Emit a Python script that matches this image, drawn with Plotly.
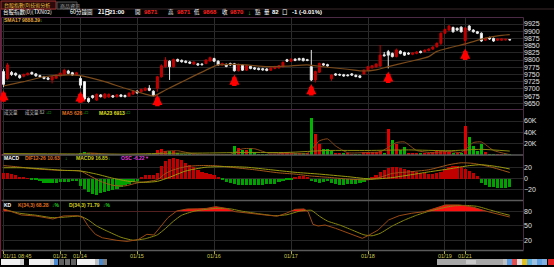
import numpy as np
import plotly.graph_objects as go

W, H = 554, 267

# ---------------- data ----------------
date_ticks = [0, 14, 19, 33, 52, 71, 90, 109, 114]
date_labels = ["01/11 08:45", "01/12", "01/14", "01/15", "01/16", "01/17", "01/18", "01/19", "01/21"]

opens = [9760, 9736, 9757, 9754, 9746, 9744, 9749, 9757, 9752, 9746, 9742, 9738, 9731, 9737, 9745, 9750, 9762, 9756, 9748,
         9736, 9725, 9667, 9676, 9661, 9679, 9669, 9672, 9676, 9673, 9679, 9677, 9675, 9682,
         9692, 9690, 9695, 9702, 9692, 9702, 9742, 9777, 9796, 9777, 9802, 9799, 9796, 9793, 9786, 9787, 9786, 9788, 9797,
         9805, 9796, 9783, 9785, 9788, 9787, 9763, 9783, 9765, 9778, 9773, 9771, 9770, 9769, 9765, 9771, 9773, 9777, 9801,
         9796, 9803, 9805, 9805, 9801, 9777, 9731, 9758, 9787, 9784, 9735, 9752, 9750, 9749, 9748, 9752, 9747, 9745, 9752,
         9765, 9773, 9776, 9779, 9818, 9829, 9823, 9812, 9831, 9826, 9824, 9820, 9823, 9830, 9829, 9833, 9838, 9846, 9858,
         9893, 9904, 9913, 9910, 9914,
         9868, 9918, 9904, 9898, 9893, 9869, 9878, 9875, 9869, 9869, 9870, 9871]
highs = [9768, 9790, 9762, 9757, 9750, 9753, 9757, 9760, 9755, 9749, 9745, 9741, 9745, 9751, 9757, 9770, 9766, 9759, 9759,
         9748, 9727, 9670, 9679, 9684, 9682, 9685, 9684, 9679, 9682, 9682, 9680, 9688, 9695,
         9695, 9701, 9705, 9713, 9695, 9745, 9785, 9810, 9799, 9805, 9805, 9802, 9799, 9796, 9796, 9790, 9789, 9803, 9812,
         9808, 9799, 9791, 9788, 9791, 9790, 9788, 9786, 9783, 9781, 9776, 9774, 9773, 9772, 9775, 9780, 9783, 9795, 9804,
         9806, 9806, 9808, 9808, 9804, 9835, 9763, 9791, 9790, 9787, 9751, 9755, 9753, 9752, 9751, 9755, 9750, 9748, 9768,
         9780, 9783, 9789, 9852, 9828, 9835, 9826, 9840, 9834, 9829, 9827, 9827, 9831, 9833, 9837, 9841, 9848, 9861, 9896,
         9909, 9921, 9916, 9913, 9917,
         9914, 9921, 9907, 9901, 9896, 9878, 9881, 9878, 9876, 9876, 9874, 9871]
lows = [9706, 9730, 9745, 9744, 9735, 9740, 9746, 9749, 9742, 9739, 9733, 9730, 9719, 9734, 9742, 9747, 9751, 9745, 9745,
        9702, 9660, 9652, 9666, 9658, 9670, 9666, 9669, 9669, 9670, 9671, 9670, 9672, 9679,
        9683, 9687, 9692, 9692, 9674, 9690, 9739, 9774, 9731, 9774, 9793, 9791, 9789, 9786, 9783, 9780, 9781, 9785, 9794,
        9793, 9780, 9780, 9775, 9780, 9760, 9760, 9762, 9762, 9768, 9766, 9764, 9763, 9761, 9762, 9768, 9770, 9774, 9793,
        9793, 9796, 9798, 9795, 9796, 9727, 9722, 9755, 9780, 9777, 9728, 9745, 9745, 9742, 9743, 9745, 9740, 9737, 9749,
        9762, 9770, 9773, 9776, 9812, 9771, 9809, 9809, 9820, 9814, 9818, 9817, 9820, 9823, 9826, 9830, 9835, 9843, 9852,
        9890, 9901, 9895, 9901, 9895,
        9850, 9901, 9895, 9890, 9863, 9866, 9870, 9863, 9866, 9866, 9867, 9868]
closes = [9716, 9783, 9750, 9748, 9739, 9750, 9754, 9752, 9745, 9742, 9736, 9733, 9742, 9748, 9754, 9765, 9754, 9748, 9756,
          9713, 9665, 9656, 9670, 9681, 9673, 9682, 9681, 9672, 9679, 9674, 9673, 9685, 9692,
          9686, 9698, 9702, 9695, 9677, 9742, 9780, 9800, 9777, 9802, 9796, 9794, 9792, 9789, 9793, 9783, 9784, 9800, 9808,
          9796, 9783, 9788, 9778, 9783, 9763, 9785, 9765, 9780, 9771, 9769, 9767, 9766, 9764, 9772, 9777, 9780, 9792, 9796,
          9803, 9799, 9801, 9798, 9799, 9731, 9760, 9788, 9783, 9780, 9748, 9748, 9748, 9745, 9746, 9748, 9743, 9740, 9765,
          9777, 9780, 9786, 9817, 9815, 9817, 9812, 9835, 9823, 9817, 9821, 9824, 9828, 9826, 9834, 9838, 9845, 9858, 9893,
          9906, 9918, 9898, 9904, 9898,
          9911, 9904, 9898, 9893, 9866, 9875, 9873, 9866, 9873, 9873, 9872, 9870]

sma_x = [0, 5, 10, 15, 19, 25, 30, 35, 37, 40, 45, 50, 53, 57, 60, 65, 70, 75, 80, 85, 89, 92, 95, 100, 105, 107, 110, 114, 119, 122, 125]
sma_y = [9710, 9725, 9742, 9748, 9746, 9725, 9702, 9682, 9675, 9696, 9731, 9765, 9783, 9785, 9783, 9777, 9779, 9783, 9775, 9768,
         9762, 9766, 9777, 9794, 9812, 9830, 9842, 9856, 9876, 9884, 9888]

arrow_bars = [0, 19, 38, 57, 76, 95, 114]

volume = [1200, 1500, 900, 700, 800, 300, 250, 200, 250, 300, 200, 250, 300, 350, 300, 350, 300, 250, 200,
          4000, 4500, 3500, 2500, 2000, 400, 500, 350, 300, 400, 450, 300, 350, 500,
          400, 500, 450, 600, 500, 9400, 10000, 7000, 6500, 6500, 3500, 1200, 900, 1000, 1300, 800, 900, 1500, 1200,
          1000, 900, 1100, 800, 900, 16000, 13000, 9400, 9400, 13000, 4700, 1500, 1200, 900, 1000, 1400, 1200, 5000, 4500,
          4000, 2500, 2000, 1800, 2200, 66000, 36500, 20000, 10600, 10600, 7000, 3000, 2500, 2000, 1800, 1500, 1300, 1500, 5000,
          6000, 5500, 4500, 6500, 4000, 46500, 26000, 20000, 8000, 14000, 3000, 2500, 2000, 2500, 3000, 2500, 6000, 7000, 6500,
          7000, 5500, 3000, 2500, 2000,
          50600, 31800, 15300, 7000, 18800, 5000, 1500, 900, 700, 800, 650, 82]

vma5_x = [0, 18, 21, 26, 37, 40, 43, 47, 56, 59, 62, 66, 70, 75, 78, 80, 82, 85, 90, 93, 97, 99, 102, 106, 110, 113, 116, 118, 121, 125]
vma5_y = [1500, 600, 3500, 1500, 500, 6500, 7500, 2000, 1000, 11000, 11000, 2000, 3500, 3000, 25000, 28500, 16000, 4000, 4500, 5500,
          22000, 23000, 8000, 4000, 6500, 4500, 22000, 23000, 8000, 626]
vma23_x = [0, 20, 30, 40, 50, 60, 70, 80, 90, 100, 110, 118, 125]
vma23_y = [2500, 1800, 1500, 3000, 3500, 4500, 4500, 8000, 8000, 9000, 7500, 10000, 6913]

osc = [10, 10, 8, 6, 3.3, 1.7, 0.5, -1, -1.5, -5, -7.8, -8, -8.5, -8, -7, -6, -6, -5, -5,
       -13, -19, -24, -27, -29, -26, -23, -21.7, -20, -19, -14.4, -12, -9, -6.7,
       -5, 3.3, 6, 7, 6, 10, 22.8, 31, 34, 35.5, 35, 32, 28, 24.4, 20, 15.5, 11.7, 9, 7.8,
       6, 3.3, -3.3, -5.5, -7.8, -10.5, -11, -12, -12, -12, -12, -11.7, -11, -10.5, -10, -9, -6.7, -5, -3.3,
       -1, 3.3, 4.4, 4.4, 3.3, -5, -6.7, -7.8, -5.5, -5, -7.8, -10.5, -11, -11, -10.5, -10, -9.4, -7.8, -5.5,
       -3.3, 3.3, 6, 11.7, 15.5, 19, 20, 20, 19, 17, 14.4, 12.8, 11, 10, 9, 7.8, 7.8, 9, 11.7,
       17, 21, 22.8, 22, 20,
       17, 13.3, 9, 4.4, -7.8, -12, -14.4, -15.5, -16.7, -16.7, -16, -14.4]
dif_x = [0, 3, 8, 14, 19, 21, 24, 27, 30, 33, 36, 38, 40, 42, 45, 48, 52, 56, 62, 68, 72, 76, 80, 85, 90, 93, 96, 100, 105, 110, 113, 116, 120, 125]
dif_y = [22.8, 21, 17, 14.4, 13.3, 6, -5, -12, -13, -7.8, -5, -2, 9, 15.5, 21, 22.8, 22.8, 20, 15.5, 10, 7.8, 4.4, 2.2, -1, -2.2,
         2.2, 9, 11.7, 15.5, 24.4, 27.8, 26.7, 21, 10.63]
dea_x = [0, 5, 10, 15, 19, 23, 27, 31, 35, 38, 41, 45, 50, 55, 60, 66, 72, 78, 85, 91, 96, 100, 105, 110, 115, 118, 122, 125]
dea_y = [19, 19, 17, 14.4, 13.3, 7.8, 0.5, -5, -6.7, -5, 2.2, 13.3, 20, 21, 20, 15.5, 11, 7.8, 3.3, -1, 1.7, 6, 11.7, 17, 22.8,
         24.4, 21, 16.85]

k_x = [0, 4.4, 7.9, 12.2, 14.8, 18.3, 19.6, 21, 22.7, 24.4, 28, 30.5, 33.2, 35.4, 37.1, 38.8, 40.6, 42.8, 45.4, 48, 50.2, 52.4,
       55, 57.2, 60.2, 64.6, 67.6, 69.8, 72, 74.2, 75.2, 76.4, 77.7, 79.4, 82, 85.1, 87.3, 88.6, 90.3, 92.5, 95.1, 97.7,
       100.8, 103.9, 106.5, 109.1, 112.6, 116.1, 119.6, 122.2, 125]
k_y = [84.8, 72.5, 70.5, 64.3, 70.5, 71, 67, 48.6, 33, 26, 20.7, 18.6, 22, 33, 31.6, 48.6, 67, 80.7, 84.8, 84.8, 86, 89.5,
       86, 79.3, 76, 72.5, 70, 76, 84, 84.8, 79.3, 53.4, 50, 52, 45.2, 35, 28.2, 24.8, 31.6, 41.8, 62.3, 71,
       76, 79.3, 86, 93, 93, 88, 79.3, 74, 68.28]
d_x = [0, 4, 8, 12, 15, 19, 21, 23, 26, 29, 32, 35, 38, 40, 42, 44, 47, 50, 53, 56, 59, 63, 67, 70, 73, 76, 78, 80, 83, 86, 89,
       91, 93, 96, 99, 102, 105, 108, 111, 114, 117, 120, 123, 125]
d_y = [84, 76, 72, 67, 68, 70, 62, 50, 38, 27, 21, 24, 32, 45, 60, 72, 80, 84, 86, 85, 80, 75, 71, 73, 80, 82, 70, 60, 52, 42, 32,
       30, 35, 50, 62, 72, 80, 86, 91, 92, 90, 83, 76, 71.79]

price_ticks = [9925, 9900, 9875, 9850, 9825, 9800, 9775, 9750, 9725, 9700, 9675, 9650]
vol_ticks = [60000, 40000, 20000]
vol_ticktext = ["60K", "40K", "20K"]
macd_ticks = [20, 0, -20]
kd_ticks = [80, 50, 20]

# ---------------- helpers ----------------
def px(x):
    return x / W

def py(y):
    return 1 - y / H

n = len(closes)
idx = list(range(n))
BG = "#000000"
GRID = "#262626"
FONT = "Liberation Sans, Noto Sans CJK TC, sans-serif"
CJK = "Noto Sans CJK TC, sans-serif"

fig = go.Figure()

# price
fig.add_trace(go.Candlestick(
    x=idx, open=opens, high=highs, low=lows, close=closes, yaxis="y",
    increasing=dict(line=dict(color="#c00000", width=1), fillcolor="#c00000"),
    decreasing=dict(line=dict(color="#e8e8e8", width=1), fillcolor="#ffffff"),
    whiskerwidth=0, hoverinfo="skip", showlegend=False))
fig.add_trace(go.Scatter(x=sma_x, y=sma_y, mode="lines", yaxis="y",
                         line=dict(color="#7a4a1a", width=1.2, shape="spline", smoothing=0.6),
                         hoverinfo="skip", showlegend=False))

# volume
vcol = ["#e00000"] + ["#e00000" if closes[i] >= closes[i - 1] else "#00b400" for i in range(1, n)]
fig.add_trace(go.Bar(x=idx, y=volume, yaxis="y2", marker=dict(color=vcol, line=dict(width=0)),
                     width=0.75, hoverinfo="skip", showlegend=False))
fig.add_trace(go.Scatter(x=vma5_x, y=vma5_y, mode="lines", yaxis="y2",
                         line=dict(color="#8a4a1a", width=1, shape="spline", smoothing=0.5),
                         hoverinfo="skip", showlegend=False))
fig.add_trace(go.Scatter(x=vma23_x, y=vma23_y, mode="lines", yaxis="y2",
                         line=dict(color="#8a8a10", width=1, shape="spline", smoothing=0.5),
                         hoverinfo="skip", showlegend=False))

# macd
ocol = ["#c00000" if v >= 0 else "#00a000" for v in osc]
fig.add_trace(go.Bar(x=idx, y=osc, yaxis="y3", marker=dict(color=ocol, line=dict(width=0)),
                     width=0.8, hoverinfo="skip", showlegend=False))
fig.add_trace(go.Scatter(x=dif_x, y=dif_y, mode="lines", yaxis="y3",
                         line=dict(color="#a0561a", width=1, shape="spline", smoothing=0.6),
                         hoverinfo="skip", showlegend=False))
fig.add_trace(go.Scatter(x=dea_x, y=dea_y, mode="lines", yaxis="y3",
                         line=dict(color="#9a9a10", width=1, shape="spline", smoothing=0.6),
                         hoverinfo="skip", showlegend=False))


# KD fills (red above 80, green below 20)
def clipped(xs, ys, level, above):
    ox, oy = [], []
    for i in range(len(xs)):
        if i > 0:
            a, b = ys[i - 1] - level, ys[i] - level
            if a * b < 0:
                t = a / (a - b)
                ox.append(xs[i - 1] + t * (xs[i] - xs[i - 1]))
                oy.append(level)
        v = ys[i]
        oy.append(max(v, level) if above else min(v, level))
        ox.append(xs[i])
    return ox, oy

for level, above, col in [(80, True, "#ff1010"), (20, False, "#10c010")]:
    cx, cy = clipped(k_x, k_y, level, above)
    fig.add_trace(go.Scatter(x=[cx[0], cx[-1]], y=[level, level], mode="lines", yaxis="y4",
                             line=dict(width=0, color=col), hoverinfo="skip", showlegend=False))
    fig.add_trace(go.Scatter(x=cx, y=cy, mode="lines", yaxis="y4", fill="tonexty", fillcolor=col,
                             line=dict(width=0, color=col), hoverinfo="skip", showlegend=False))

fig.add_trace(go.Scatter(x=d_x, y=d_y, mode="lines", yaxis="y4",
                         line=dict(color="#8a8a10", width=1, shape="spline", smoothing=0.5),
                         hoverinfo="skip", showlegend=False))
fig.add_trace(go.Scatter(x=k_x, y=k_y, mode="lines", yaxis="y4",
                         line=dict(color="#9a4a14", width=1),
                         hoverinfo="skip", showlegend=False))

# ---------------- layout ----------------
tickfont = dict(family=FONT, size=7, color="#e0e0e0")
common_y = dict(side="right", anchor="x", showgrid=True, gridcolor=GRID, gridwidth=1,
                zeroline=False, showline=False, ticks="", tickfont=tickfont, fixedrange=True)

fig.update_layout(
    width=W, height=H, margin=dict(l=0, r=0, t=0, b=0),
    paper_bgcolor=BG, plot_bgcolor=BG, showlegend=False, bargap=0, boxgap=0.28,
    xaxis=dict(domain=[px(2), px(523)], range=[-0.37, 128.27], anchor="y4",
               showgrid=True, gridcolor="#2c2c2c", tickvals=date_ticks, ticktext=[""] * len(date_ticks),
               ticks="outside", ticklen=3, tickcolor="#b0b040", zeroline=False, showline=False,
               rangeslider=dict(visible=False), fixedrange=True),
    yaxis=dict(domain=[py(109), py(18)], range=[9630.2, 9945.8], tickvals=price_ticks, tickformat="d", **common_y),
    yaxis2=dict(domain=[py(155), py(110)], range=[0, 79500], tickvals=vol_ticks, ticktext=vol_ticktext, **common_y),
    yaxis3=dict(domain=[py(200), py(155)], range=[-38, 41.6], tickvals=macd_ticks, **common_y),
    yaxis4=dict(domain=[py(250), py(201)], range=[1, 101], tickvals=kd_ticks, **common_y),
)

# arrows under the 08:45 bars
for b in arrow_bars:
    fig.add_annotation(x=b, y=lows[b], xref="x", yref="y", text="", showarrow=True, ax=0, ay=13,
                       arrowhead=2, arrowsize=0.45, arrowwidth=4.5, arrowcolor="#ff0000", yshift=-3)

shapes = []
# panel frames
shapes.append(dict(type="rect", xref="paper", yref="paper", x0=px(1.5), x1=px(523.5), y0=py(109.5), y1=py(17.5),
                   line=dict(color="#4a2a44", width=1)))
for yy in [155, 200.5, 250.5]:
    shapes.append(dict(type="line", xref="paper", yref="paper", x0=px(1.5), x1=px(523.5), y0=py(yy), y1=py(yy),
                       line=dict(color="#5a5a5a", width=1.5)))
shapes.append(dict(type="line", xref="paper", yref="paper", x0=px(523.5), x1=px(523.5), y0=py(250.5), y1=py(109.5),
                   line=dict(color="#4a2a44", width=1)))
# left maroon border
shapes.append(dict(type="line", xref="paper", yref="paper", x0=px(0.5), x1=px(0.5), y0=py(258), y1=py(9),
                   line=dict(color="#7a1a3a", width=1)))
# top tab row
shapes.append(dict(type="line", xref="paper", yref="paper", x0=0, x1=1, y0=py(9), y1=py(9),
                   line=dict(color="#3a2a2a", width=1)))
shapes.append(dict(type="rect", xref="paper", yref="paper", x0=px(1), x1=px(56), y0=py(9), y1=py(1),
                   line=dict(color="#a03030", width=1), fillcolor="#2a0a0a"))
shapes.append(dict(type="rect", xref="paper", yref="paper", x0=px(57), x1=px(77), y0=py(9), y1=py(2),
                   line=dict(color="#505050", width=1), fillcolor="#101010"))
# bottom toolbar
tb = [(1, 20, "#f0f0f0"), (20, 24, "#d0d0d0"), (29, 50, "#f0f0f0"), (50, 54, "#d0d0d0"), (54, 58, "#4a8ad0"),
      (59, 64, "#606060"), (65, 70, "#707070"), (71, 76, "#606060"), (77, 95, "#f0f0f0"), (95, 99, "#c0c0c0"),
      (99, 103, "#4a8ad0"), (103, 107, "#808080"), (437, 503, "#a8a8a8"), (503, 507, "#c0c0c0"),
      (507, 512, "#5a9ae0"), (512, 517, "#e05050"), (517, 522, "#e0e0e0"), (522, 527, "#e0c020"),
      (527, 532, "#60b0e0"), (532, 537, "#a0c0e0"), (537, 542, "#60a0e0"), (542, 547, "#80b0e0"), (548, 554, "#e02020")]
for x0, x1, c in tb:
    shapes.append(dict(type="rect", xref="paper", yref="paper", x0=px(x0), x1=px(x1), y0=py(265), y1=py(259),
                       line=dict(width=0), fillcolor=c))
shapes.append(dict(type="rect", xref="paper", yref="paper", x0=px(466), x1=px(476), y0=py(264), y1=py(260),
                   line=dict(width=0), fillcolor="#c8c8c8"))
fig.update_layout(shapes=shapes)


def txt(x, y, s, color="#ffffff", size=7, bold=False, family=FONT, anchor="left"):
    if bold:
        s = "<b>" + s + "</b>"
    fig.add_annotation(x=px(x), y=py(y), xref="paper", yref="paper", text=s, showarrow=False,
                       xanchor=anchor, yanchor="middle", font=dict(family=family, size=size, color=color))

# tab row
txt(2, 5, "台股指數(0)技術分析", "#e8c040", 5, family=CJK)
txt(58, 5.5, "商品資訊", "#a0a0a0", 5, family=CJK)
# header row
hy = 12.3
hs = 5.5
txt(1, hy, "台股指數(0)(TXN02)", "#ffffff", hs, family=CJK)
txt(68, hy, "60分鐘圖", "#ffffff", hs, family=CJK)
txt(96, hy, "21日", "#ffffff", hs, True, family=CJK)
txt(107, hy, "21:00", "#ffffff", 6, True)
for lx, lab, vx, val in [(133, "開", 142, "9871"), (166, "高", 175, "9871"), (192, "低", 201, "9868"), (220, "收", 228, "9870")]:
    txt(lx, hy, lab, "#ffffff", hs, family=CJK)
    txt(vx, hy, val, "#ff2020", 6, True)
txt(246, hy, "↓", "#20d020", 6.5, True)
txt(253, hy, "點", "#ffffff", hs, family=CJK)
txt(262, hy, "量", "#ffffff", hs, family=CJK)
txt(270, hy, "82", "#ffffff", 6, True)
txt(280, hy, "口", "#ffffff", hs, family=CJK)
txt(290, hy, "-1 (-0.01%)", "#ffffff", 6, True)

# panel legends
txt(2, 20.5, "SMA17 9888.39", "#e0a840", 5, True)
txt(38, 20.5, "↓", "#20d020", 5, True)

vy = 113
txt(2, vy, "成交量", "#c0c0c0", 4.5, family=CJK)
txt(23, vy, "成交量 82", "#c0c0c0", 4.5, family=CJK)
txt(44, vy, "↓□", "#20d020", 4.5)
txt(60, vy, "MA5 626", "#e07020", 5, True)
txt(81, vy, "↓□", "#20d020", 4.5)
txt(97, vy, "MA23 6913", "#e0e020", 5, True)
txt(123, vy, "↓□", "#20d020", 4.5)

my = 157.5
txt(2, my, "MACD", "#ffffff", 5, True)
txt(23, my, "DIF12-26 10.63", "#e07020", 5, True)
txt(63, my, "↓", "#20d020", 5, True)
txt(74, my, "MACD9 16.85", "#d0d020", 5, True)
txt(106, my, "↓", "#20d020", 5, True)
txt(119, my, "OSC -6.22", "#e040e0", 5, True)
txt(143, my, "▼", "#e040e0", 4)

ky = 205
txt(2, ky, "KD", "#ffffff", 5, True)
txt(16, ky, "K(34,3) 68.28", "#e07020", 5, True)
txt(50, ky, "↓%", "#20d020", 5, True)
txt(67, ky, "D(34,3) 71.79", "#d0d020", 5, True)
txt(101, ky, "↓%", "#20d020", 5, True)

# date labels
dx0 = 3.5
for t, lab in zip(date_ticks, date_labels):
    xpix = dx0 + t * 4.05
    if t == 0:
        txt(1, 256, lab, "#c8c850", 5.5)
    else:
        txt(xpix, 256, lab, "#c8c850", 5.5, anchor="center")

fig.write_html("out.html")
